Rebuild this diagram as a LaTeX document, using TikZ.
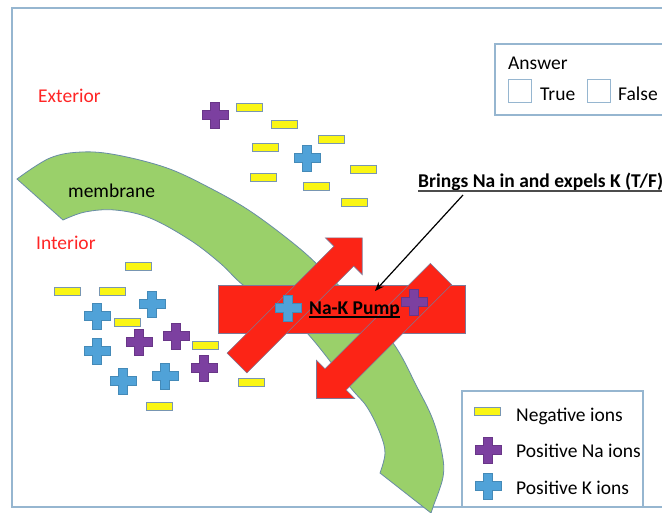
\documentclass[tikz,border=0pt]{standalone}
\usepackage{fontspec}
\setmainfont{Carlito}
\usetikzlibrary{arrows.meta}

\definecolor{framec}{RGB}{150,182,208}
\definecolor{memgreen}{RGB}{154,208,106}
\definecolor{memedge}{RGB}{104,140,165}
\definecolor{pumpred}{RGB}{252,36,22}
\definecolor{pumpedge}{RGB}{125,120,150}
\definecolor{negyellow}{RGB}{250,246,20}
\definecolor{ionedge}{RGB}{120,150,178}
\definecolor{napurple}{RGB}{124,64,160}
\definecolor{kblue}{RGB}{80,162,216}
\definecolor{labelred}{RGB}{255,38,38}

\tikzset{
  boxframe/.style={draw=framec, line width=1.6pt},
  negion/.style={draw=ionedge, line width=0.8pt, fill=negyellow,
    minimum width=26pt, minimum height=8pt, inner sep=0pt},
  plusion/.pic={
    \path[pic actions] (-13,-4.7) -- (-4.7,-4.7) -- (-4.7,-13) -- (4.7,-13)
      -- (4.7,-4.7) -- (13,-4.7) -- (13,4.7) -- (4.7,4.7) -- (4.7,13)
      -- (-4.7,13) -- (-4.7,4.7) -- (-13,4.7) -- cycle;
  },
  na/.style={fill=napurple, draw=napurple!85!black, line width=0.5pt},
  k/.style={fill=kblue, draw=kblue!85!black, line width=0.5pt},
  lbl/.style={anchor=base west, inner sep=0pt, font=\fontsize{19.5}{22}\selectfont},
  boldlbl/.style={lbl, font=\fontsize{19.5}{22}\selectfont\bfseries},
  redlbl/.style={lbl, text=labelred},
  underlined/.style={line width=1.1pt},
  pumppart/.style={fill=pumpred, draw=pumpedge, line width=0.6pt},
  checkbox/.style={draw=framec, line width=1.2pt, minimum width=23pt,
    minimum height=23pt, inner sep=0pt},
}

\begin{document}
\begin{tikzpicture}[x=1pt, y=-1pt]
\useasboundingbox (0,0) rectangle (662,512);
\clip (0,0) rectangle (662,512);
\fill[white] (0,0) rectangle (662,512);

% outer frame
\draw[boxframe] (12,8) rectangle (700,507);

% answer box
\draw[boxframe] (495,44) rectangle (700,115);
\node[lbl] (answer) at (508,69) {Answer};
\node[checkbox] (cbtrue) at (520,91) {};
\node[lbl] (truelbl) at (540,100) {True};
\node[checkbox] (cbfalse) at (599,91) {};
\node[lbl] (falselbl) at (618,100) {False};

% region labels
\node[redlbl] (exterior) at (38,102) {Exterior};
\node[redlbl] (interior) at (36,249) {Interior};

% membrane band
\path[draw=memedge, fill=memgreen, line width=0.8pt]
  plot[smooth, tension=0.6] coordinates {(17,179) (50,158) (82,152) (117,155)
    (167,168) (210,188) (250,211) (293,243) (320,267) (355,302) (393,343)
    (417,387) (433,420) (442,453) (443,477) (433,507) (431,513)}
  -- plot[smooth, tension=0.6] coordinates {(380,473) (385,453) (380,433)
    (367,407) (350,387) (307,333) (275,307) (243,285) (220,263) (190,240)
    (150,218) (115,210) (85,212) (63,220)}
  -- cycle;
\node[lbl] (membrane) at (68,197) {membrane};

% Na-K pump body and its two transport arrows
\path[pumppart] (218,285) rectangle (465,333);
\path[pumppart] (227.1,353.1) -- (333.9,246.3) -- (325.4,237.8) -- (362.2,237.8)
  -- (362.2,274.6) -- (353.7,266.1) -- (246.9,372.9) -- cycle;
\path[pumppart] (451.6,284.6) -- (346.2,390) -- (354.7,398.5) -- (316.5,398.5)
  -- (316.5,360.3) -- (325,368.8) -- (430.4,263.4) -- cycle;

% ions outside the cell
\pic[na] (na1) at (215,115) {plusion};
\pic[k] (k1) at (307,158) {plusion};
\node[negion] (n1) at (249,107) {};
\node[negion] (n2) at (284,124) {};
\node[negion] (n3) at (331,139) {};
\node[negion] (n4) at (265,147) {};
\node[negion] (n5) at (363,169) {};
\node[negion] (n6) at (263,177) {};
\node[negion] (n7) at (316,186) {};
\node[negion] (n8) at (354,202) {};

% ions inside the cell
\node[negion] (n9) at (138,266) {};
\node[negion] (n10) at (67,291) {};
\node[negion] (n11) at (112,291) {};
\node[negion] (n12) at (127,322) {};
\node[negion] (n13) at (205,345) {};
\node[negion] (n14) at (251,382) {};
\node[negion] (n15) at (159,406) {};
\pic[k] (k2) at (152,304) {plusion};
\pic[k] (k3) at (97,316) {plusion};
\pic[k] (k4) at (97,351) {plusion};
\pic[k] (k5) at (165,376) {plusion};
\pic[k] (k6) at (123,381) {plusion};
\pic[na] (na2) at (176,336) {plusion};
\pic[na] (na3) at (139,342) {plusion};
\pic[na] (na4) at (204,368) {plusion};

% ions passing through the pump
\pic[k] (k7) at (288,308) {plusion};
\pic[na] (na5) at (414,302) {plusion};
\node[boldlbl] (pumplbl) at (309,314) {Na-K Pump};
\draw[underlined] ([yshift=-3pt]pumplbl.base west) -- ([yshift=-3pt]pumplbl.base east);

% question callout
\node[boldlbl] (callout) at (418,187) {Brings Na in and expels K (T/F)};
\draw[underlined, black!70] ([yshift=-4pt]callout.base west) -- ([yshift=-4pt]callout.base east);
\coordinate (calloutfoot) at (463,195);
\coordinate (pumptarget) at (375,291);
\draw[line width=1.2pt, -{Stealth[length=9pt, width=7pt]}] (calloutfoot) -- (pumptarget);

% legend
\draw[boxframe] (462,391) rectangle (643,507);
\node[negion] (legneg) at (487,411) {};
\node[lbl] (legnegtxt) at (516,421) {Negative ions};
\pic[na] (legna) at (488,450) {plusion};
\node[lbl] (legnatxt) at (516,457) {Positive Na ions};
\pic[k] (legk) at (488,486) {plusion};
\node[lbl] (legktxt) at (516,494) {Positive K ions};
\end{tikzpicture}
\end{document}
